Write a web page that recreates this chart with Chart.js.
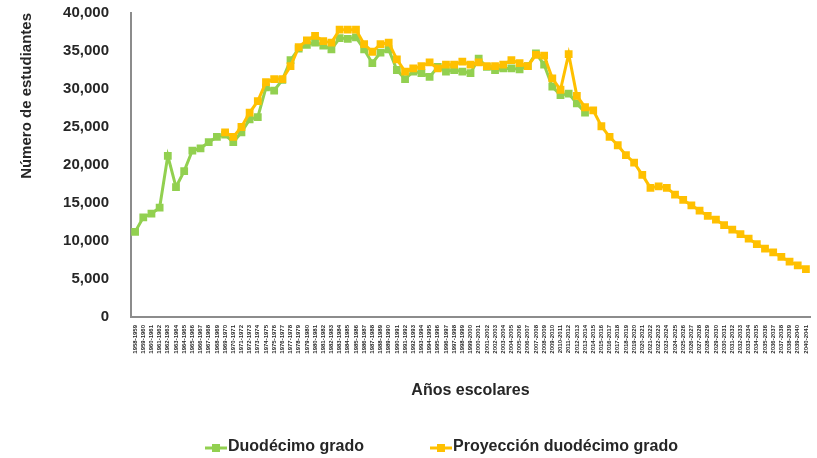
<!DOCTYPE html>
<html>
<head>
<meta charset="utf-8">
<script src="https://cdn.jsdelivr.net/npm/chart.js@4"></script>
<style>
  html, body { margin: 0; padding: 0; background: #fff; }
  #wrap { width: 817px; height: 458px; }
</style>
</head>
<body>
<div id="wrap"><canvas id="chart" width="817" height="458"></canvas></div>
<script>
// años escolares (eje x)
const schoolYears = [
  '1958-1959','1959-1960','1960-1961','1961-1962','1962-1963','1963-1964','1964-1965','1965-1966','1966-1967','1967-1968',
  '1968-1969','1969-1970','1970-1971','1971-1972','1972-1973','1973-1974','1974-1975','1975-1976','1976-1977','1977-1978',
  '1978-1979','1979-1980','1980-1981','1981-1982','1982-1983','1983-1984','1984-1985','1985-1986','1986-1987','1987-1988',
  '1988-1989','1989-1990','1990-1991','1991-1992','1992-1993','1993-1994','1994-1995','1995-1996','1996-1997','1997-1998',
  '1998-1999','1999-2000','2000-2001','2001-2002','2002-2003','2003-2004','2004-2005','2005-2006','2006-2007','2007-2008',
  '2008-2009','2009-2010','2010-2011','2011-2012','2012-2013','2013-2014','2014-2015','2015-2016','2016-2017','2017-2018',
  '2018-2019','2019-2020','2020-2021','2021-2022','2022-2023','2023-2024','2024-2025','2025-2026','2026-2027','2027-2028',
  '2028-2029','2029-2030','2030-2031','2031-2032','2032-2033','2033-2034','2034-2035','2035-2036','2036-2037','2037-2038',
  '2038-2039','2039-2040','2040-2041'
];

// estudiantes de duodécimo grado (datos reales)
const duodecimo = [
  11200, 13100, 13600, 14400, 21200, 17100, 19200, 21900, 22200, 23000,
  23700, 24000, 23000, 24300, 26000, 26300, 30200, 29800, 31200, 33800,
  35300, 35800, 36100, 35700, 35200, 36700, 36600, 36800, 35200, 33400,
  34800, 35200, 32500, 31300, 32300, 32100, 31600, 32900, 32300, 32500,
  32300, 32100, 34000, 32900, 32500, 32700, 32700, 32600, 33000, 34700,
  33200, 30300, 29200, 29400, 28100, 26900
];

// proyección (empieza en el índice 11)
const proyeccion = [
  null, null, null, null, null, null, null, null, null, null,
  null, 24300, 23700, 25000, 26900, 28400, 30900, 31300, 31300, 33000,
  35500, 36400, 37000, 36300, 36100, 37800, 37800, 37800, 35900, 34900,
  35900, 36100, 33900, 32300, 32700, 33000, 33500, 32700, 33200, 33200,
  33600, 33200, 33500, 33000, 33000, 33200, 33800, 33400, 33000, 34500,
  34400, 31400, 29900, 34600, 29100, 27600, 27200, 25100, 23700, 22600,
  21300, 20300, 18700, 17000, 17200, 17000, 16100, 15400, 14700, 14000,
  13300, 12800, 12100, 11500, 10900, 10300, 9600, 9000, 8500, 7900,
  7300, 6800, 6300
];

const yTicks = [0, 5000, 10000, 15000, 20000, 25000, 30000, 35000, 40000];

const GREEN = '#92D050';
const ORANGE = '#FFC000';
const FONT = "'Liberation Sans', Arial, sans-serif";
const TEXT = '#262626';

// leyenda dibujada a mano (línea con marcador, estilo Excel)
const legendPlugin = {
  id: 'excelLegend',
  afterDraw(chart) {
    const ctx = chart.ctx;
    const items = [
      { x: 205, ds: chart.data.datasets[0] },
      { x: 430, ds: chart.data.datasets[1] }
    ];
    const y = 448;
    ctx.save();
    items.forEach(it => {
      ctx.strokeStyle = it.ds.borderColor;
      ctx.lineWidth = 3;
      ctx.beginPath();
      ctx.moveTo(it.x, y);
      ctx.lineTo(it.x + 22, y);
      ctx.stroke();
      ctx.fillStyle = it.ds.borderColor;
      ctx.fillRect(it.x + 7, y - 4, 8, 8);
      ctx.fillStyle = TEXT;
      ctx.font = 'bold 16px ' + FONT;
      ctx.textBaseline = 'middle';
      ctx.textAlign = 'left';
      ctx.fillText(it.ds.label, it.x + 23, y - 1);
    });
    ctx.restore();
  }
};

new Chart(document.getElementById('chart'), {
  type: 'line',
  data: {
    labels: schoolYears,
    datasets: [
      {
        label: 'Duodécimo grado',
        data: duodecimo,
        borderColor: GREEN,
        backgroundColor: GREEN,
        borderWidth: 3,
        pointStyle: 'rect',
        pointRadius: 5.5,
        pointBorderWidth: 0,
        tension: 0,
        order: 1
      },
      {
        label: 'Proyección duodécimo grado',
        data: proyeccion,
        borderColor: ORANGE,
        backgroundColor: ORANGE,
        borderWidth: 3,
        pointStyle: 'rect',
        pointRadius: 5.5,
        pointBorderWidth: 0,
        tension: 0,
        order: 0
      }
    ]
  },
  options: {
    responsive: false,
    animation: false,
    layout: { padding: { left: 0, right: 7, top: 13, bottom: 50 } },
    plugins: {
      legend: { display: false },
      tooltip: { enabled: false }
    },
    scales: {
      x: {
        offset: true,
        grid: { display: false },
        border: { display: true, color: '#8c8c8c', width: 2 },
        afterFit(axis) { axis.height = 91; },
        ticks: {
          autoSkip: false,
          maxRotation: 90,
          minRotation: 90,
          padding: 0,
          color: TEXT,
          font: { family: FONT, size: 6, weight: 'bold' }
        },
        title: {
          display: true,
          text: 'Años escolares',
          color: TEXT,
          font: { family: FONT, size: 16, weight: 'bold' },
          padding: { top: 0, bottom: 8 }
        }
      },
      y: {
        min: 0,
        max: 40000,
        grid: { display: false },
        border: { display: true, color: '#8c8c8c', width: 2 },
        afterFit(axis) {
          axis.width = 131;
          axis.paddingTop = 9;
          axis.paddingBottom = 9;
        },
        afterBuildTicks(axis) { axis.ticks = yTicks.map(v => ({ value: v })); },
        ticks: {
          padding: 14,
          color: TEXT,
          font: { family: FONT, size: 15, weight: 'bold' },
          callback: v => v.toLocaleString('en-US')
        },
        title: {
          display: true,
          text: 'Número de estudiantes',
          align: 'end',
          color: TEXT,
          font: { family: FONT, size: 15, weight: 'bold' },
          padding: { top: 18, bottom: 0 }
        }
      }
    }
  },
  plugins: [legendPlugin]
});
</script>
</body>
</html>
